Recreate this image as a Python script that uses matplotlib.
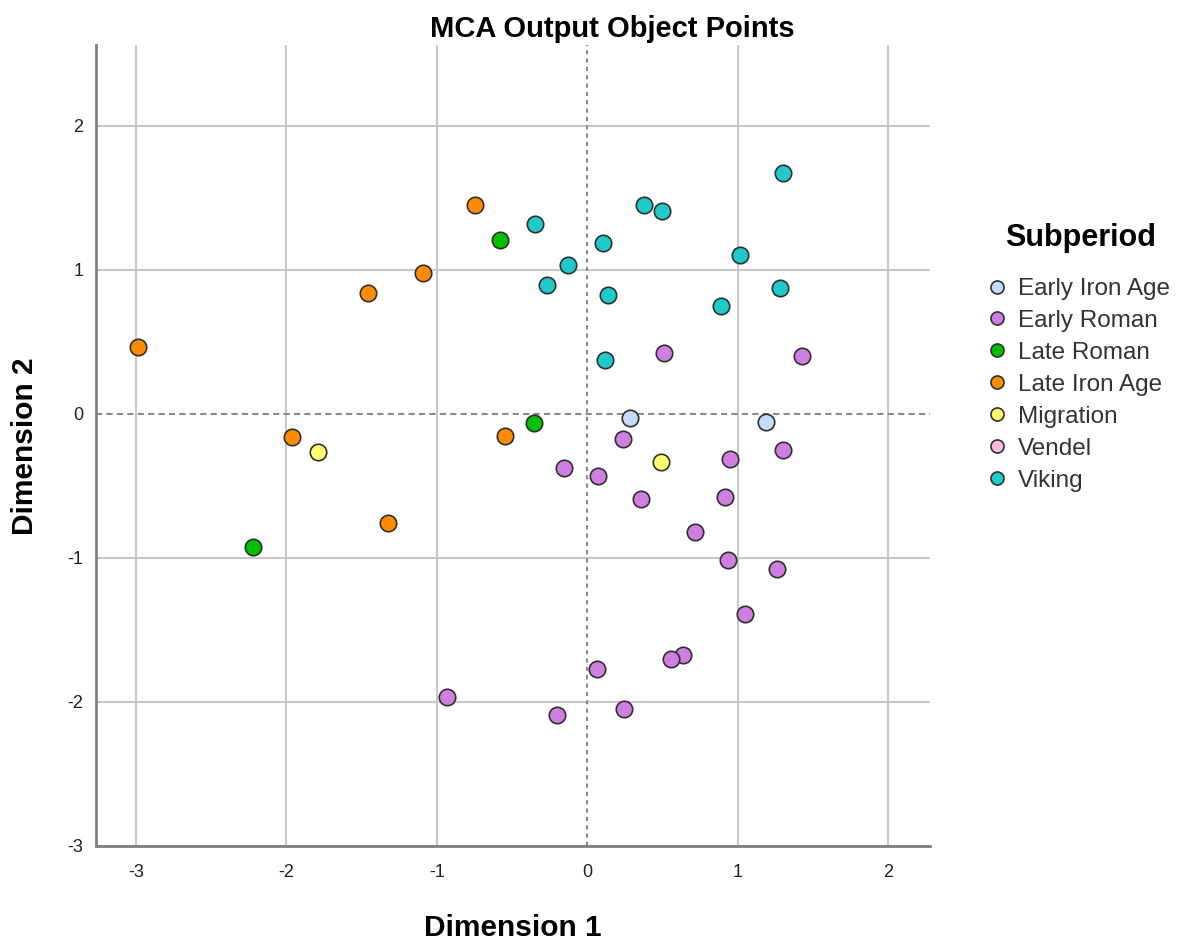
import matplotlib.pyplot as plt
from matplotlib.lines import Line2D

plt.rcParams['font.family'] = ['Liberation Sans', 'DejaVu Sans']
plt.rcParams['axes.unicode_minus'] = False

# Categorías y colores (estilo SPSS)
groups = ['Early Iron Age', 'Early Roman', 'Late Roman', 'Late Iron Age',
          'Migration', 'Vendel', 'Viking']
colors = ['#c4dcf8', '#cf7fdf', '#00c000', '#ff8c00', '#ffff70', '#ffbbdd', '#1fcaca']

# Puntos
early_iron_x = [0.286, 1.188]
early_iron_y = [-0.032, -0.056]

early_roman_x = [0.514, 1.427, 0.235, 1.301, 0.951, -0.155, 0.075, 0.357, 0.915, 0.720,
                 0.933, 1.263, 1.048, 0.638, 0.556, 0.066, -0.935, -0.204, 0.244]
early_roman_y = [0.426, 0.403, -0.174, -0.252, -0.312, -0.377, -0.430, -0.588, -0.576, -0.817,
                 -1.014, -1.076, -1.387, -1.676, -1.704, -1.769, -1.965, -2.093, -2.049]

late_roman_x = [-0.583, -0.355, -2.223]
late_roman_y = [1.206, -0.060, -0.924]

late_iron_x = [-2.99, -0.745, -1.46, -1.09, -1.966, -0.545, -1.323]
late_iron_y = [0.465, 1.447, 0.84, 0.98, -0.158, -0.155, -0.755]

migration_x = [-1.79, 0.494]
migration_y = [-0.264, -0.333]

vendel_x = []
vendel_y = []

viking_x = [-0.346, 0.108, -0.131, -0.268, 0.377, 0.497, 1.305, 1.017, 0.140, 1.283, 0.891, 0.118]
viking_y = [1.317, 1.185, 1.035, 0.898, 1.447, 1.410, 1.674, 1.104, 0.826, 0.877, 0.752, 0.375]

data = [(early_iron_x, early_iron_y), (early_roman_x, early_roman_y),
        (late_roman_x, late_roman_y), (late_iron_x, late_iron_y),
        (migration_x, migration_y), (vendel_x, vendel_y), (viking_x, viking_y)]

fig = plt.figure(figsize=(11.8, 9.41), dpi=100)
ax = fig.add_axes([0.0814, 0.101, 0.7068, 0.851])

ax.set_xlim(-3.266, 2.28)
ax.set_ylim(-3.0, 2.56)
ax.set_xticks([-3, -2, -1, 0, 1, 2])
ax.set_yticks([-3, -2, -1, 0, 1, 2])

# rejilla
for v in [-3, -2, -1, 1, 2]:
    ax.axvline(v, color='#c8c8c8', lw=1.5, zorder=0)
    ax.axhline(v, color='#c8c8c8', lw=1.5, zorder=0)
ax.axvline(0, color='#8a8a8a', lw=1.5, ls=(0, (2, 2)), zorder=1)
ax.axhline(0, color='#8a8a8a', lw=1.5, ls=(0, (3, 2)), zorder=1)

for (xs, ys), c in zip(data, colors):
    if xs:
        ax.scatter(xs, ys, s=140, color=c, edgecolor='#303030', linewidth=1.2, zorder=3)

for s in ['top', 'right']:
    ax.spines[s].set_visible(False)
for s in ['left', 'bottom']:
    ax.spines[s].set_color('#808080')
    ax.spines[s].set_linewidth(2)
ax.tick_params(length=0, labelsize=13, colors='#222222')
ax.tick_params(axis='x', pad=13)
ax.tick_params(axis='y', pad=9)

fig.text(0.5186, 0.9607, 'MCA Output Object Points', fontsize=21, fontweight='bold',
         ha='center', va='baseline')
fig.text(513 / 1180, 0.0048, 'Dimension 1', fontsize=21.5, fontweight='bold',
         ha='center', va='baseline')
fig.text(33 / 1180, 1 - 446 / 941, 'Dimension 2', fontsize=21.5, fontweight='bold',
         rotation=90, rotation_mode='anchor', ha='center', va='baseline')

# leyenda
fig.text(1081 / 1180, 1 - 238 / 941, 'Subperiod', fontsize=22, fontweight='bold',
         ha='center', va='center')
handles = [Line2D([], [], marker='o', ls='', markersize=9.4, markerfacecolor=c,
                  markeredgecolor='#303030', markeredgewidth=1.2) for c in colors]
leg = fig.legend(handles, groups, loc='upper left',
                 bbox_to_anchor=(985 / 1180, 1 - 278 / 941), frameon=False, fontsize=17.5,
                 handletextpad=0.36, handlelength=1.0, labelspacing=0.41,
                 borderpad=0, borderaxespad=0)
for t in leg.get_texts():
    t.set_color('#333333')

fig.savefig('out.png', dpi=100)
